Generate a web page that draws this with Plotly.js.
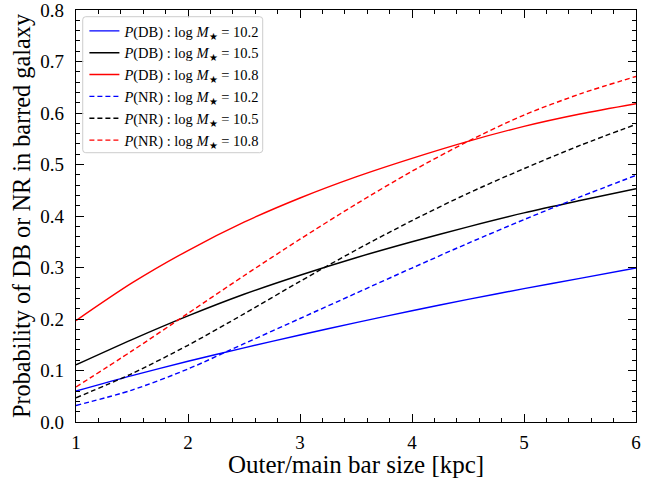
<!DOCTYPE html>
<html>
<head>
<meta charset="utf-8">
<script src="https://cdn.plot.ly/plotly-3.0.1.min.js"></script>
<style>html,body{margin:0;padding:0;background:#fff;}#chart{width:660px;height:479px;}</style>
</head>
<body>
<div id="chart"></div>
<script>
// Outer/main bar size [kpc]
const barSize = [1, 1.5, 2, 2.5, 3, 3.5, 4, 4.5, 5, 5.5, 6];
// P(DB) curves
const pDB_102 = [0.060, 0.090, 0.118, 0.144, 0.169, 0.193, 0.216, 0.238, 0.259, 0.279, 0.299];
const pDB_105 = [0.111, 0.160, 0.206, 0.248, 0.285, 0.319, 0.350, 0.379, 0.406, 0.430, 0.453];
const pDB_108 = [0.197, 0.270, 0.333, 0.388, 0.435, 0.476, 0.512, 0.545, 0.574, 0.598, 0.618];
// P(NR) curves
const pNR_102 = [0.032, 0.062, 0.103, 0.152, 0.201, 0.250, 0.299, 0.347, 0.393, 0.437, 0.479];
const pNR_105 = [0.047, 0.094, 0.149, 0.210, 0.273, 0.334, 0.391, 0.444, 0.492, 0.537, 0.578];
const pNR_108 = [0.068, 0.138, 0.211, 0.284, 0.355, 0.423, 0.487, 0.545, 0.596, 0.637, 0.671];
// tick labels
const xTicks = [1, 2, 3, 4, 5, 6];
const xTickText = ['1', '2', '3', '4', '5', '6'];
const yTicks = [0, 0.1, 0.2, 0.3, 0.4, 0.5, 0.6, 0.7, 0.8];
const yTickText = ['0.0', '0.1', '0.2', '0.3', '0.4', '0.5', '0.6', '0.7', '0.8'];
const labels = [
  '<i>P</i>(DB) : log <i>M</i><sub>★</sub> = 10.2',
  '<i>P</i>(DB) : log <i>M</i><sub>★</sub> = 10.5',
  '<i>P</i>(DB) : log <i>M</i><sub>★</sub> = 10.8',
  '<i>P</i>(NR) : log <i>M</i><sub>★</sub> = 10.2',
  '<i>P</i>(NR) : log <i>M</i><sub>★</sub> = 10.5',
  '<i>P</i>(NR) : log <i>M</i><sub>★</sub> = 10.8'
];
const series = [pDB_102, pDB_105, pDB_108, pNR_102, pNR_105, pNR_108];
const colors = ['#0000ff', '#000000', '#ff0000', '#0000ff', '#000000', '#ff0000'];
const dashes = ['solid', 'solid', 'solid', '5px,3px', '5px,3px', '5px,3px'];

const traces = series.map((ys, i) => ({
  x: barSize, y: ys, type: 'scatter', mode: 'lines', name: labels[i],
  line: {color: colors[i], width: 1.4, dash: dashes[i], shape: 'spline', smoothing: 0.8}
}));

const font = 'Liberation Serif, Times New Roman, serif';
const axisCommon = {
  showline: true, linecolor: '#000', linewidth: 1.2, mirror: 'allticks',
  ticks: 'inside', ticklen: 8, tickwidth: 1, tickcolor: '#000',
  showgrid: false, zeroline: false, ticklabeloverflow: 'allow',
  tickfont: {family: font, size: 19, color: '#000'}
};
// rounded legend frame (paper coords)
const bx0 = 0.012, bx1 = 0.3334, by0 = 0.6536, by1 = 0.9837, rx = 0.0054, ry = 0.0073;
const framePath = `M ${bx0 + rx},${by1} L ${bx1 - rx},${by1} Q ${bx1},${by1} ${bx1},${by1 - ry} ` +
  `L ${bx1},${by0 + ry} Q ${bx1},${by0} ${bx1 - rx},${by0} L ${bx0 + rx},${by0} Q ${bx0},${by0} ${bx0},${by0 + ry} ` +
  `L ${bx0},${by1 - ry} Q ${bx0},${by1} ${bx0 + rx},${by1} Z`;

const layout = {
  width: 660, height: 479,
  margin: {l: 76, r: 24, t: 10, b: 57},
  paper_bgcolor: '#fff', plot_bgcolor: '#fff',
  showlegend: true,
  legend: {
    x: 0.015, y: 0.988, xanchor: 'left', yanchor: 'top',
    bgcolor: 'rgba(0,0,0,0)', borderwidth: 0,
    font: {family: font, size: 14.5, color: '#000'}, tracegroupgap: 0
  },
  shapes: [{type: 'path', xref: 'paper', yref: 'paper', path: framePath,
    fillcolor: 'rgba(255,255,255,0.85)', line: {color: '#cccccc', width: 1}, layer: 'above'}],
  annotations: [{text: 'Outer/main bar size [kpc]', xref: 'paper', yref: 'paper',
    x: 0.5, y: -0.102, xanchor: 'center', yanchor: 'middle', showarrow: false,
    font: {family: font, size: 25, color: '#000'}}],
  xaxis: Object.assign({}, axisCommon, {
    range: [1, 6], tickmode: 'array', tickvals: xTicks, ticktext: xTickText,
    minor: {dtick: 0.2, tick0: 1, ticks: 'inside', ticklen: 4, tickwidth: 1, tickcolor: '#000'},
    ticklabelstandoff: 3
  }),
  yaxis: Object.assign({}, axisCommon, {
    range: [0, 0.8], tickmode: 'array', tickvals: yTicks, ticktext: yTickText,
    minor: {dtick: 0.02, tick0: 0, ticks: 'inside', ticklen: 4, tickwidth: 1, tickcolor: '#000'},
    title: {text: 'Probability of DB or NR in barred galaxy', font: {family: font, size: 24.3, color: '#000'}, standoff: 2},
    ticklabelstandoff: 7
  })
};
Plotly.newPlot('chart', traces, layout, {displayModeBar: false, staticPlot: true});
</script>
</body>
</html>
